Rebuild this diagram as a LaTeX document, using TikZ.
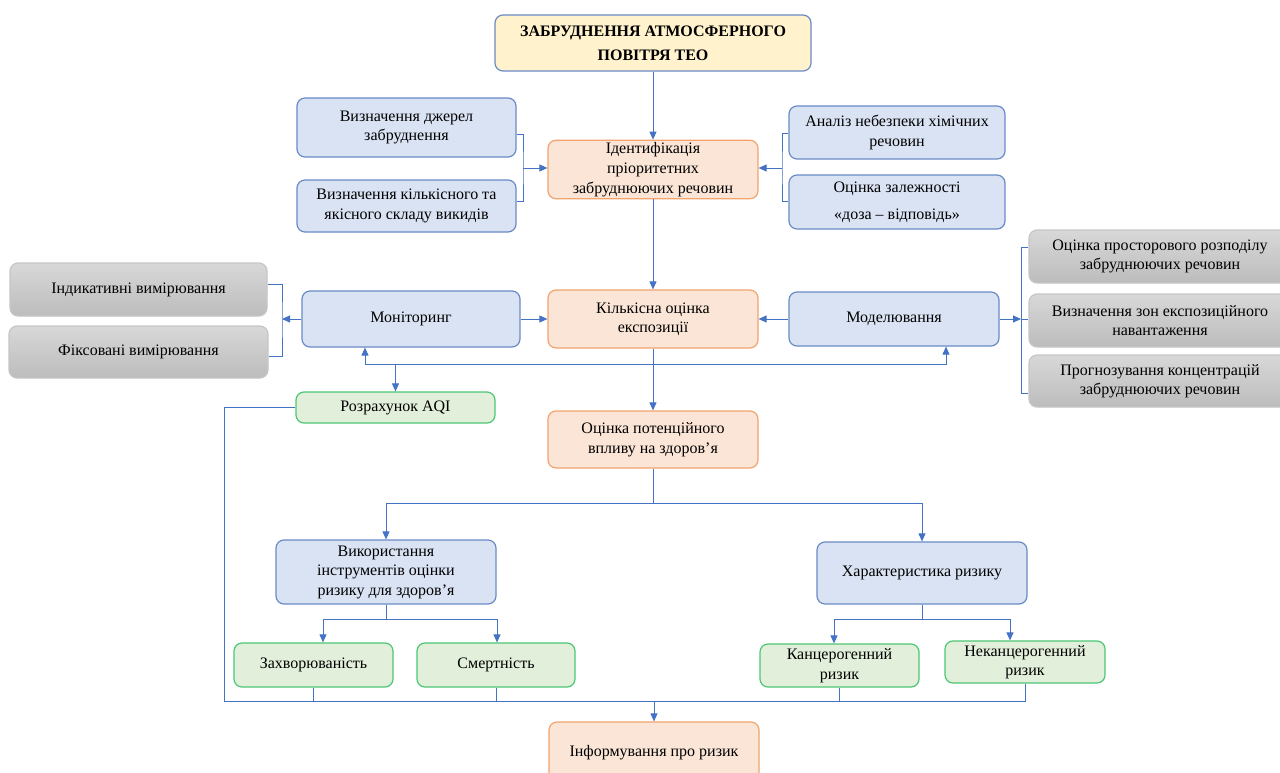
\documentclass[tikz,border=0pt]{standalone}
\usepackage{fontspec}
\setmainfont{Liberation Serif}
\usetikzlibrary{arrows.meta,calc}
\definecolor{bfill}{HTML}{DAE3F3}
\definecolor{bdraw}{HTML}{6A8AC6}
\definecolor{ofill}{HTML}{FBE5D6}
\definecolor{odraw}{HTML}{F2A46E}
\definecolor{gfill}{HTML}{E2EFDA}
\definecolor{gdraw}{HTML}{4CC774}
\definecolor{yfill}{HTML}{FFF2CC}
\definecolor{gtop}{HTML}{D8D8D8}
\definecolor{gbot}{HTML}{BCBCBC}
\definecolor{gdr}{HTML}{C6C6C6}
\definecolor{lin}{HTML}{4472C4}
\begin{document}
\begin{tikzpicture}[x=1pt,y=-1pt,
  box/.style={rectangle, rounded corners=8pt, line width=1.2pt, align=center,
    inner sep=2pt, font=\fontsize{16}{19.5}\selectfont, text=black},
  bluebox/.style={box, draw=bdraw, fill=bfill},
  orbox/.style={box, draw=odraw, fill=ofill},
  grbox/.style={box, draw=gdraw, fill=gfill},
  graybox/.style={box, draw=gdr, top color=gtop, bottom color=gbot},
  topbox/.style={box, draw=bdraw, fill=yfill, font=\fontsize{16}{24}\selectfont\bfseries},
  conn/.style={draw=lin, line width=0.9pt},
  arr/.style={conn, -{Triangle[length=8pt,width=7pt]}},
]
\useasboundingbox (0,0) rectangle (1280,773);
\clip (0,0) rectangle (1280,773);
\fill[white] (0,0) rectangle (1280,773);

% nodes
\node[topbox, minimum width=316, minimum height=56] (top) at (653,43) {ЗАБРУДНЕННЯ АТМОСФЕРНОГО\\ПОВІТРЯ ТЕО};
\node[bluebox, minimum width=219, minimum height=59] (src1) at (406.5,127.5) {Визначення джерел\\забруднення};
\node[bluebox, minimum width=219, minimum height=52] (src2) at (406.5,206) {Визначення кількісного та\\якісного складу викидів};
\node[orbox, minimum width=210, minimum height=58, font=\fontsize{16}{20}\selectfont] (ident) at (653,169.5) {Ідентифікація\\пріоритетних\\забруднюючих речовин};
\node[bluebox, minimum width=216, minimum height=53] (haz) at (897,132.5) {Аналіз небезпеки хімічних\\речовин};
\node[bluebox, minimum width=216, minimum height=54, font=\fontsize{16}{27}\selectfont] (dose) at (897,202) {Оцінка залежності\\«доза – відповідь»};
\node[graybox, minimum width=257, minimum height=53] (ind) at (138.5,289.5) {Індикативні вимірювання};
\node[graybox, minimum width=259, minimum height=52] (fix) at (138.5,352) {Фіксовані вимірювання};
\node[bluebox, minimum width=218, minimum height=56] (mon) at (411,319) {Моніторинг};
\node[orbox, minimum width=210, minimum height=58] (quant) at (653,319) {Кількісна оцінка\\експозиції};
\node[bluebox, minimum width=210, minimum height=54] (model) at (894,319) {Моделювання};
\node[graybox, minimum width=262, minimum height=53] (r1) at (1160,256.5) {Оцінка просторового розподілу\\забруднюючих речовин};
\node[graybox, minimum width=262, minimum height=53] (r2) at (1160,320.5) {Визначення зон експозиційного\\навантаження};
\node[graybox, minimum width=262, minimum height=52] (r3) at (1160,381) {Прогнозування концентрацій\\забруднюючих речовин};
\node[grbox, minimum width=199, minimum height=31] (aqi) at (395.5,407.5) {Розрахунок AQI};
\node[orbox, minimum width=210, minimum height=57] (pot) at (653,439.5) {Оцінка потенційного\\впливу на здоров’я};
\node[bluebox, minimum width=220, minimum height=64] (tools) at (386,572) {Використання\\інструментів оцінки\\ризику для здоров’я};
\node[bluebox, minimum width=210, minimum height=62] (char) at (922,573) {Характеристика ризику};
\node[grbox, minimum width=159, minimum height=44] (morb) at (313.5,665) {Захворюваність};
\node[grbox, minimum width=158, minimum height=44] (mort) at (496,665) {Смертність};
\node[grbox, minimum width=159, minimum height=43] (canc) at (839.5,665.5) {Канцерогенний\\ризик};
\node[grbox, minimum width=160, minimum height=42] (ncanc) at (1025,662) {Неканцерогенний\\ризик};
\node[orbox, minimum width=210, minimum height=62] (info) at (654,753) {Інформування про ризик};

% connectors: top part
\draw[arr] (top.south) -- (ident.north);
\coordinate (bl) at (523,168);
\draw[conn] ([yshift=-6.5pt]src1.east) -| (bl) |- ([yshift=5pt]src2.east);
\draw[arr] (bl) -- (bl -| ident.west);
\coordinate (br) at (782,168);
\draw[conn] ([yshift=-0.5pt]haz.west) -| (br) |- ([yshift=1pt]dose.west);
\draw[arr] (br) -- (br -| ident.east);
\draw[arr] (ident.south) -- (quant.north);

% monitoring row
\coordinate (ml) at (282,319);
\draw[arr] (mon.west) -- (ml);
\draw[conn] ([yshift=5.5pt]ind.east) -| (ml) |- ([yshift=-4pt]fix.east);
\draw[arr] (mon.east) -- (quant.west);
\draw[arr] (model.west) -- (quant.east);
\coordinate (mr) at (1021,319);
\draw[arr] (model.east) -- (mr);
\draw[conn] ([yshift=9.5pt]r1.west) -| (mr) |- ([yshift=-12pt]r3.west);
\draw[conn] (mr) -- (mr -| r2.west);

% feedback line
\coordinate (fb) at (653,364);
\draw[arr] (fb) -| ([xshift=-46pt]mon.south);
\draw[arr] (fb) -| ([xshift=52pt]model.south);
\draw[arr] (aqi.north |- fb) -- (aqi.north);
\draw[arr] (quant.south) -- (pot.north);

% health branch
\coordinate (hb) at (653,503);
\draw[conn] (pot.south) -- (hb);
\draw[arr] (hb) -| (tools.north);
\draw[arr] (hb) -| (char.north);
\coordinate (tb) at (386,619);
\draw[conn] (tools.south) -- (tb);
\draw[arr] (tb) -| ([xshift=9.5pt]morb.north);
\draw[arr] (tb) -| ([xshift=1pt]mort.north);
\coordinate (cb) at (922,619);
\draw[conn] (char.south) -- (cb);
\draw[arr] (cb) -| ([xshift=-5.5pt]canc.north);
\draw[arr] (cb) -| ([xshift=-15pt]ncanc.north);

% bottom collector
\coordinate (bot) at (654,701);
\draw[conn] (aqi.west) -| (224,701) -- (ncanc.south |- bot) -- (ncanc.south);
\draw[conn] (morb.south) -- (morb.south |- bot);
\draw[conn] (mort.south) -- (mort.south |- bot);
\draw[conn] (canc.south) -- (canc.south |- bot);
\draw[arr] (bot) -- (info.north);
\end{tikzpicture}
\end{document}
